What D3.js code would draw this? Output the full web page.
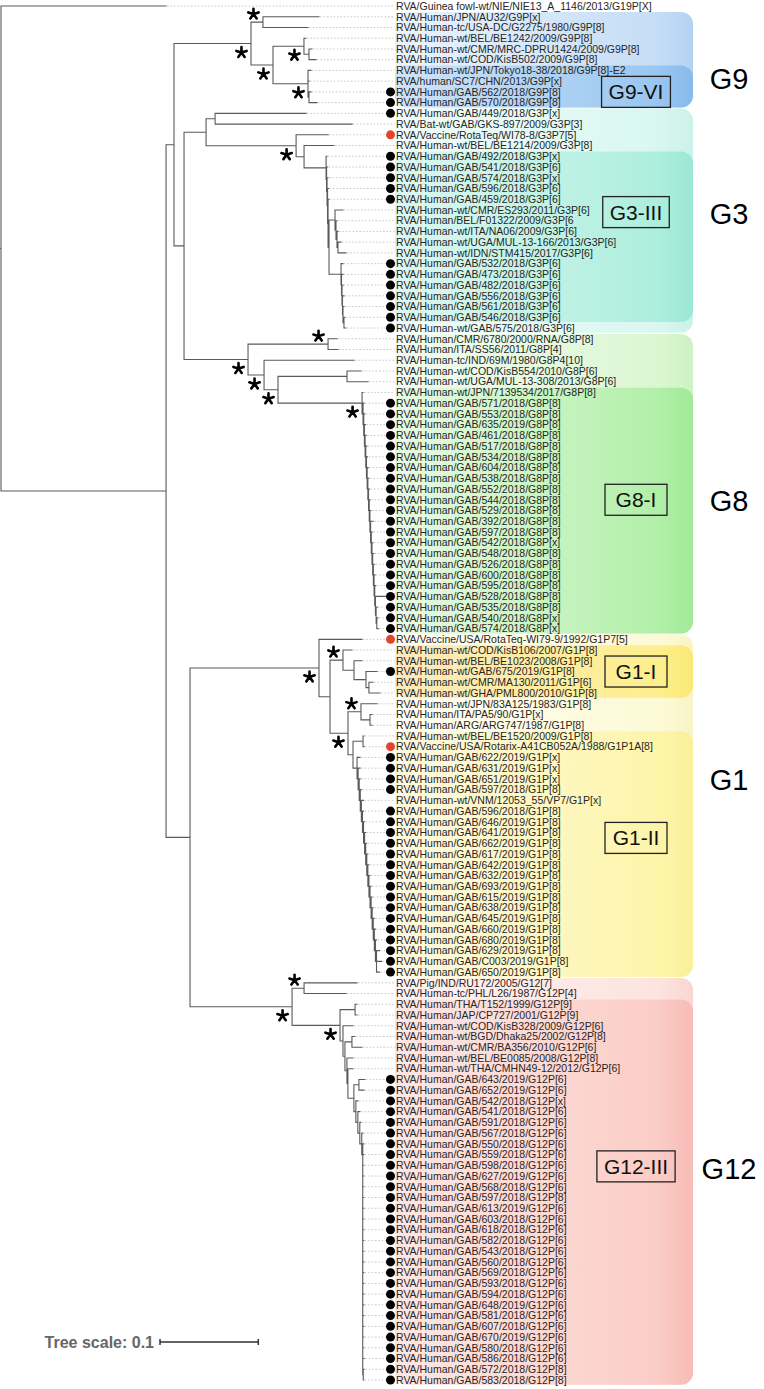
<!DOCTYPE html>
<html><head><meta charset="utf-8">
<script src="https://cdn.jsdelivr.net/npm/d3@7"></script>
<style>body{margin:0;background:#fff}svg{display:block}</style>
</head><body>
<script>
// ---------- DATA ----------
const leafLabels = [
"RVA/Guinea fowl-wt/NIE/NIE13_A_1146/2013/G19P[X]",
"RVA/Human/JPN/AU32/G9P[x]",
"RVA/Human-tc/USA-DC/G2275/1980/G9P[8]",
"RVA/Human-wt/BEL/BE1242/2009/G9P[8]",
"RVA/Human-wt/CMR/MRC-DPRU1424/2009/G9P[8]",
"RVA/Human-wt/COD/KisB502/2009/G9P[8]",
"RVA/Human-wt/JPN/Tokyo18-38/2018/G9P[8]-E2",
"RVA/human/SC7/CHN/2013/G9P[x]",
"RVA/Human/GAB/562/2018/G9P[8]",
"RVA/Human/GAB/570/2018/G9P[8]",
"RVA/Human/GAB/449/2018/G3P[x]",
"RVA/Bat-wt/GAB/GKS-897/2009/G3P[3]",
"RVA/Vaccine/RotaTeq/WI78-8/G3P7[5]",
"RVA/Human-wt/BEL/BE1214/2009/G3P[8]",
"RVA/Human/GAB/492/2018/G3P[x]",
"RVA/Human/GAB/541/2018/G3P[6]",
"RVA/Human/GAB/574/2018/G3P[x]",
"RVA/Human/GAB/596/2018/G3P[6]",
"RVA/Human/GAB/459/2018/G3P[6]",
"RVA/Human-wt/CMR/ES293/2011/G3P[6]",
"RVA/Human/BEL/F01322/2009/G3P[6",
"RVA/Human-wt/ITA/NA06/2009/G3P[6]",
"RVA/Human-wt/UGA/MUL-13-166/2013/G3P[6]",
"RVA/Human-wt/IDN/STM415/2017/G3P[6]",
"RVA/Human/GAB/532/2018/G3P[6]",
"RVA/Human/GAB/473/2018/G3P[6]",
"RVA/Human/GAB/482/2018/G3P[6]",
"RVA/Human/GAB/556/2018/G3P[6]",
"RVA/Human/GAB/561/2018/G3P[6]",
"RVA/Human/GAB/546/2018/G3P[6]",
"RVA/Human-wt/GAB/575/2018/G3P[6]",
"RVA/Human/CMR/6780/2000/RNA/G8P[8]",
"RVA/Human/ITA/SS56/2011/G8P[4]",
"RVA/Human-tc/IND/69M/1980/G8P4[10]",
"RVA/Human-wt/COD/KisB554/2010/G8P[6]",
"RVA/Human-wt/UGA/MUL-13-308/2013/G8P[6]",
"RVA/Human-wt/JPN/7139534/2017/G8P[8]",
"RVA/Human/GAB/571/2018/G8P[8]",
"RVA/Human/GAB/553/2018/G8P[8]",
"RVA/Human/GAB/635/2019/G8P[8]",
"RVA/Human/GAB/461/2018/G8P[8]",
"RVA/Human/GAB/517/2018/G8P[8]",
"RVA/Human/GAB/534/2018/G8P[8]",
"RVA/Human/GAB/604/2018/G8P[8]",
"RVA/Human/GAB/538/2018/G8P[8]",
"RVA/Human/GAB/552/2018/G8P[8]",
"RVA/Human/GAB/544/2018/G8P[8]",
"RVA/Human/GAB/529/2018/G8P[8]",
"RVA/Human/GAB/392/2018/G8P[8]",
"RVA/Human/GAB/597/2018/G8P[8]",
"RVA/Human/GAB/542/2018/G8P[x]",
"RVA/Human/GAB/548/2018/G8P[8]",
"RVA/Human/GAB/526/2018/G8P[8]",
"RVA/Human/GAB/600/2018/G8P[8]",
"RVA/Human/GAB/595/2018/G8P[8]",
"RVA/Human/GAB/528/2018/G8P[8]",
"RVA/Human/GAB/535/2018/G8P[8]",
"RVA/Human/GAB/540/2018/G8P[x]",
"RVA/Human/GAB/574/2018/G8P[x]",
"RVA/Vaccine/USA/RotaTeq-WI79-9/1992/G1P7[5]",
"RVA/Human-wt/COD/KisB106/2007/G1P[8]",
"RVA/Human-wt/BEL/BE1023/2008/G1P[8]",
"RVA/Human-wt/GAB/675/2019/G1P[8]",
"RVA/Human-wt/CMR/MA130/2011/G1P[6]",
"RVA/Human-wt/GHA/PML800/2010/G1P[8]",
"RVA/Human-wt/JPN/83A125/1983/G1P[8]",
"RVA/Human/ITA/PA5/90/G1P[x]",
"RVA/Human/ARG/ARG747/1987/G1P[8]",
"RVA/Human-wt/BEL/BE1520/2009/G1P[8]",
"RVA/Vaccine/USA/Rotarix-A41CB052A/1988/G1P1A[8]",
"RVA/Human/GAB/622/2019/G1P[x]",
"RVA/Human/GAB/631/2019/G1P[x]",
"RVA/Human/GAB/651/2019/G1P[x]",
"RVA/Human/GAB/597/2018/G1P[8]",
"RVA/Human-wt/VNM/12053_55/VP7/G1P[x]",
"RVA/Human/GAB/596/2018/G1P[8]",
"RVA/Human/GAB/646/2019/G1P[8]",
"RVA/Human/GAB/641/2019/G1P[8]",
"RVA/Human/GAB/662/2019/G1P[8]",
"RVA/Human/GAB/617/2019/G1P[8]",
"RVA/Human/GAB/642/2019/G1P[8]",
"RVA/Human/GAB/632/2019/G1P[8]",
"RVA/Human/GAB/693/2019/G1P[8]",
"RVA/Human/GAB/615/2019/G1P[8]",
"RVA/Human/GAB/638/2019/G1P[8]",
"RVA/Human/GAB/645/2019/G1P[8]",
"RVA/Human/GAB/660/2019/G1P[8]",
"RVA/Human/GAB/680/2019/G1P[8]",
"RVA/Human/GAB/629/2019/G1P[8]",
"RVA/Human/GAB/C003/2019/G1P[8]",
"RVA/Human/GAB/650/2019/G1P[8]",
"RVA/Pig/IND/RU172/2005/G12[7]",
"RVA/Human-tc/PHL/L26/1987/G12P[4]",
"RVA/Human/THA/T152/1999/G12P[9]",
"RVA/Human/JAP/CP727/2001/G12P[9]",
"RVA/Human-wt/COD/KisB328/2009/G12P[6]",
"RVA/Human-wt/BGD/Dhaka25/2002/G12P[8]",
"RVA/Human-wt/CMR/BA356/2010/G12P[6]",
"RVA/Human-wt/BEL/BE0085/2008/G12P[8]",
"RVA/Human-wt/THA/CMHN49-12/2012/G12P[6]",
"RVA/Human/GAB/643/2019/G12P[6]",
"RVA/Human/GAB/652/2019/G12P[6]",
"RVA/Human/GAB/542/2018/G12P[x]",
"RVA/Human/GAB/541/2018/G12P[6]",
"RVA/Human/GAB/591/2018/G12P[6]",
"RVA/Human/GAB/567/2018/G12P[6]",
"RVA/Human/GAB/550/2018/G12P[6]",
"RVA/Human/GAB/559/2018/G12P[6]",
"RVA/Human/GAB/598/2018/G12P[6]",
"RVA/Human/GAB/627/2019/G12P[6]",
"RVA/Human/GAB/568/2018/G12P[6]",
"RVA/Human/GAB/597/2018/G12P[8]",
"RVA/Human/GAB/613/2019/G12P[6]",
"RVA/Human/GAB/603/2018/G12P[6]",
"RVA/Human/GAB/618/2018/G12P[6]",
"RVA/Human/GAB/582/2018/G12P[6]",
"RVA/Human/GAB/543/2018/G12P[6]",
"RVA/Human/GAB/560/2018/G12P[6]",
"RVA/Human/GAB/569/2018/G12P[6]",
"RVA/Human/GAB/593/2018/G12P[6]",
"RVA/Human/GAB/594/2018/G12P[6]",
"RVA/Human/GAB/648/2019/G12P[6]",
"RVA/Human/GAB/581/2018/G12P[6]",
"RVA/Human/GAB/607/2018/G12P[6]",
"RVA/Human/GAB/670/2019/G12P[6]",
"RVA/Human/GAB/580/2018/G12P[6]",
"RVA/Human/GAB/586/2018/G12P[6]",
"RVA/Human/GAB/572/2018/G12P[8]",
"RVA/Human/GAB/583/2018/G12P[8]"
];

// leaves (1-based row numbers) marked with a black dot (Gabon strains) / red dot (vaccine strains)
const gabonLeaves = [9,10,11,15,16,17,18,19,25,26,27,28,29,30,31,
  38,39,40,41,42,43,44,45,46,47,48,49,50,51,52,53,54,55,56,57,58,59,
  63,71,72,73,74,76,77,78,79,80,81,82,83,84,85,86,87,88,89,90,91,
  101,102,103,104,105,106,107,108,109,110,111,112,113,114,115,116,117,118,119,120,
  121,122,123,124,125,126,127,128,129];
const vaccineLeaves = [13,60,70];

// Tree topology with branch lengths (substitutions/site); leaf names = row numbers
const g9Nwk = "((2:0.0570,3:0.0458)a:0.0122,((4:0.0020,(5:0.0030,6:0.0071):0.0051)c:0.0315," +
  "(7:0.0030,8:0.0010,(9:0.0020,10:0.0081):0.0010)d:0.0356)b:0.0224)G9";
const g3Nwk = "((11:0.0926,12:0.1394):0.0092,(13:0.0326,(14:0.0305," +
  "(15:0.001,(16:0.001,(17:0.001,(18:0.001,(19:0.001," +
  "((20:0.0081,(21:0.001,(22:0.001,(23:0.003,24:0.0081):0.001):0.001):0.001):0.0061," +
  "(25:0.002,(26:0.0015,(27:0.001,(28:0.0015,(29:0.001,(30:0.001,31:0.002):0.001):0.0005):0.0005):0.0005):0.0005):0.0122)" +
  ":0.001):0.0005):0.0005):0.0005):0.0005):0.0224):0.0081)f:0.0916)G3";
const g8LadderNwk =
  "(38:0.001,(39:0.001,(40:0.001,(41:0.001,(42:0.001,(43:0.001,(44:0.001," +
  "(45:0.001,(46:0.001,(47:0.001,(48:0.001,(49:0.0027,(50:0.001,(51:0.001," +
  "(52:0.001,(53:0.001,(54:0.001,(55:0.001,(56:0.0122,(57:0.001,(58:0.001,59:0.0015)" +
  ":0.0007):0.0007):0.0007):0.0007):0.0007):0.0007):0.0007):0.0007):0.0007):0.0007" +
  "):0.0007):0.0007):0.0007):0.0007):0.0007):0.0007):0.0007):0.0007):0.0007):0.0007)";
const g8Nwk = "((32:0.0092,33:0.0102)m:0.0814,(34:0.0916,((35:0.0142,36:0.0214):0.0702," +
  "(37:0.001," + g8LadderNwk + ":0.001)r:0.0855)p:0.0142)n:0.0163)G8";
const g1LadderNwk =
  "(71:0.003,(72:0.002,(73:0.001,(74:0.001,(75:0.002,(76:0.001,(77:0.001," +
  "(78:0.001,(79:0.001,(80:0.001,(81:0.001,(82:0.001,(83:0.001,(84:0.001," +
  "(85:0.001,(86:0.001,(87:0.001,(88:0.001,(89:0.003,90:0.0051,91:0.003)" +
  ":0.0011):0.0011):0.0011):0.0011):0.0011):0.0011):0.0011):0.0011):0.0011" +
  "):0.0011):0.0011):0.0011):0.0011):0.0011):0.0011):0.0011):0.0011):0.0011)";
const g1Nwk = "(60:0.0437,((61:0.0092,(62:0.0081,(63:0.0112,(64:0.0041,65:0.0112):0.003):0.0122):0.0112)u:0.0132," +
  "((66:0.0163,(67:0.002,68:0.002):0.0092)w:0.0132,((69:0.001,70:0.001):0.0102," + g1LadderNwk + ":0.0041):0.0051)v:0.0183)" +
  ":0.0112)G1";
const g12LadderNwk =
  "((101:0.0061,102:0.0051):0.0051,(103:0.002,(104:0.002,(105:0.001,(106:0.001,(107:0.001," +
  "(108:0.001,(109:0.001,(110:0.001,(111:0.001,(112:0.001,(113:0.001,(114:0.001," +
  "(115:0.001,(116:0.001,(117:0.001,(118:0.001,(119:0.001,(120:0.001,(121:0.001," +
  "(122:0.001,(123:0.001,(124:0.001,(125:0.001,(126:0.001,(127:0.0015,(128:0.001,129:0.0005)" +
  ":0.0005):0):0):0):0):0):0):0):0):0):0):0):0):0):0):0):0):0):0):0):0" +
  "):0.001):0.002):0.002):0.002):0.002)";
const g12Nwk = "((92:0.0539,93:0.0427)z1:0.0122,((94:0.002,95:0.002):0.0153," +
  "(96:0.0102,((97:0.003,98:0.0102):0.0071,(99:0.0061,(100:0.0051," + g12LadderNwk + ":0.0061):0.001):0.002):0.002):0.003)z2:0.0488)G12";
const treeNwk = "(1:0.1679,((" + g9Nwk + ":0.0783,(" + g3Nwk + ":0.0224," + g8Nwk + ":0.0651):0.0102):0.0081," +
  "(" + g1Nwk + ":0.1312," + g12Nwk + ":0.1038):0.0244):0.1679);";

// nodes with strong support (asterisks); those drawn above their branch
const supportedNodes = ["G9","a","b","c","d","f","G8","m","n","p","r","G1","u","w","v","G12","z1","z2"];
const supportAbove = ["a","m","u","w","z1"];

// clade shading
const clades = ["G9","G3","G8","G1","G12"];
const cladeFirst = [2,11,32,60,92];
const cladeLast = [10,31,59,91,129];
const cladeLabelRow = [7.8,20.3,47.1,73.1,109.3];
const cladeColors = [["#eaf3fc","#c5ddf6","#b3d2f2"],["#f0fcfa","#d9f7f0","#cbf2e9"],
  ["#f2fbef","#dbf7d2","#cdf2c3"],["#fffdf1","#fdfad7","#f9f4c6"],["#fff2f0","#fde4e0","#fad6d1"]];
const subClades = ["G9-VI","G3-III","G8-I","G1-I","G1-II","G12-III"];
const subFirst = [7,15,37,61,69,94];
const subLast = [10,30,59,65,91,129];
const subLabelRow = [9.0,20.2,47.0,63.0,78.5,109.1];
const subColors = [["#cfe3f8","#99c6f0","#87bbec"],["#dcf7f0","#adeedd","#9be8d4"],
  ["#e6fae3","#b2efa9","#a1ea97"],["#fde9bd","#fdef8e","#fae977"],["#fef9e0","#fdf5aa","#faf09a"],
  ["#fde6e2","#fbcdc7","#f7bcb5"]];
const treeScaleValue = 0.1;

// ---------- PARSE ----------
function parseNewick(s) {
  let i = 0;
  function node() {
    const n = {children: [], name: "", length: 0};
    if (s[i] === "(") {
      i++;
      n.children.push(node());
      while (s[i] === ",") { i++; n.children.push(node()); }
      i++;
    }
    while (i < s.length && !",():;".includes(s[i])) n.name += s[i++];
    if (s[i] === ":") { i++; let t = ""; while (i < s.length && !",();".includes(s[i])) t += s[i++]; n.length = +t; }
    return n;
  }
  return node();
}

// ---------- LAYOUT ----------
const W = 764, H = 1389;
const font = "'Liberation Sans', Arial, Helvetica, sans-serif";
const y = d3.scaleLinear().domain([1, leafLabels.length]).range([6, 1380]);
const x = d3.scaleLinear().domain([0, treeScaleValue]).range([1, 99.3]);
const dotX = 390.5, textX = 396, boxX0 = 395, boxX1 = 693;

const root = d3.hierarchy(parseNewick(treeNwk), d => d.children.length ? d.children : null);
root.eachBefore(n => { n.dist = n.parent ? n.parent.dist + n.data.length : 0; n.px = x(n.dist); });
root.eachAfter(n => {
  n.py = n.children ? (n.children[0].py + n.children[n.children.length - 1].py) / 2 : y(+n.data.name);
});

const svg = d3.select("body").append("svg").attr("width", W).attr("height", H);
const defs = svg.append("defs");

function addGrad(id, cols) {
  const g = defs.append("linearGradient").attr("id", id).attr("x1", 0).attr("x2", 1).attr("y1", 0).attr("y2", 0);
  g.append("stop").attr("offset", 0).attr("stop-color", cols[0]);
  g.append("stop").attr("offset", 0.88).attr("stop-color", cols[1]);
  g.append("stop").attr("offset", 1).attr("stop-color", cols[2]);
}

// outer clade boxes
clades.forEach((c, k) => {
  addGrad("gc" + k, cladeColors[k]);
  svg.append("rect").attr("x", boxX0).attr("width", boxX1 - boxX0)
    .attr("y", y(cladeFirst[k]) - 4.8).attr("height", y(cladeLast[k]) - y(cladeFirst[k]) + 9.6)
    .attr("rx", 12).attr("fill", `url(#gc${k})`);
});
// sub-clade boxes
subClades.forEach((c, k) => {
  addGrad("gs" + k, subColors[k]);
  svg.append("rect").attr("x", boxX0).attr("width", boxX1 - boxX0)
    .attr("y", y(subFirst[k]) - 4.8).attr("height", y(subLast[k]) - y(subFirst[k]) + 9.6)
    .attr("rx", 12).attr("fill", `url(#gs${k})`);
});

// branches
let p = "";
root.each(n => {
  if (n.parent) p += `M${n.parent.px},${n.py}H${n.px}`;
  if (n.children) p += `M${n.px},${n.children[0].py}V${n.children[n.children.length - 1].py}`;
});
p += `M${root.px - 1.5},${root.py}H${root.px}`;

const leaves = root.leaves();
const gabSet = new Set(gabonLeaves), vacSet = new Set(vaccineLeaves);

// dotted leaders
svg.append("g").selectAll("line").data(leaves).join("line")
  .attr("x1", d => d.px + 1)
  .attr("x2", d => (gabSet.has(+d.data.name) || vacSet.has(+d.data.name)) ? dotX - 4.5 : textX - 1.5)
  .attr("y1", d => d.py).attr("y2", d => d.py)
  .attr("stroke", "#bdbdbd").attr("stroke-width", 0.8).attr("stroke-dasharray", "1.6,1.8");

svg.append("path").attr("d", p).attr("fill", "none").attr("stroke", "#5a5a5a")
  .attr("stroke-width", 1.1).attr("stroke-linecap", "square");

// support asterisks
const aboveSet = new Set(supportAbove);
const starPath = d3.range(5).map(k => {
  const a = (-90 + 72 * k) * Math.PI / 180;
  return `M0,0L${(5.4 * Math.cos(a)).toFixed(2)},${(5.4 * Math.sin(a)).toFixed(2)}`;
}).join("");
root.descendants().filter(n => supportedNodes.includes(n.data.name)).forEach(n => {
  const sy = n.py + (aboveSet.has(n.data.name) ? -8 : 9);
  svg.append("path").attr("d", starPath).attr("transform", `translate(${n.px - 9.5},${sy})`)
    .attr("stroke", "#000").attr("stroke-width", 2.6).attr("stroke-linecap", "round").attr("fill", "none");
});

// dots
svg.append("g").selectAll("circle").data(leaves.filter(d => gabSet.has(+d.data.name) || vacSet.has(+d.data.name))).join("circle")
  .attr("cx", dotX).attr("cy", d => d.py).attr("r", 4.5)
  .attr("fill", d => vacSet.has(+d.data.name) ? "#e2452e" : "#000");

// labels
svg.append("g").selectAll("text").data(leaves).join("text")
  .attr("x", textX).attr("y", d => d.py).attr("dy", "0.36em")
  .attr("font-family", font).attr("font-size", 10.5).attr("fill", "#262626")
  .text(d => leafLabels[+d.data.name - 1]);

// sub-clade label boxes
subClades.forEach((c, k) => {
  const cy = y(subLabelRow[k]);
  const t = svg.append("text").attr("x", 636).attr("y", cy).attr("dy", "0.36em")
    .attr("text-anchor", "middle").attr("font-family", font).attr("font-size", 21).attr("fill", "#111").text(c);
  const tw = t.node().getComputedTextLength();
  const bw = Math.max(62, tw + 14);
  svg.insert("rect", () => t.node()).attr("x", 636 - bw / 2).attr("y", cy - 15.5).attr("width", bw).attr("height", 31)
    .attr("fill", "none").attr("stroke", "#222").attr("stroke-width", 1.3);
});

// clade labels
clades.forEach((c, k) => {
  svg.append("text").attr("x", 729).attr("y", y(cladeLabelRow[k])).attr("dy", "0.36em")
    .attr("text-anchor", "middle").attr("font-family", font).attr("font-size", 29).attr("fill", "#000").text(c);
});

// tree scale
const sbX = 160, sbY = 1342, sbLen = x(treeScaleValue) - x(0);
svg.append("path").attr("d", `M${sbX},${sbY}H${sbX + sbLen}M${sbX},${sbY - 3}V${sbY + 3}M${sbX + sbLen},${sbY - 3}V${sbY + 3}`)
  .attr("stroke", "#333").attr("stroke-width", 1.5).attr("fill", "none");
svg.append("text").attr("x", 154).attr("y", sbY).attr("dy", "0.36em").attr("text-anchor", "end")
  .attr("font-family", font).attr("font-size", 16).attr("font-weight", "bold").attr("fill", "#666")
  .text("Tree scale: " + treeScaleValue);
</script>
</body></html>
